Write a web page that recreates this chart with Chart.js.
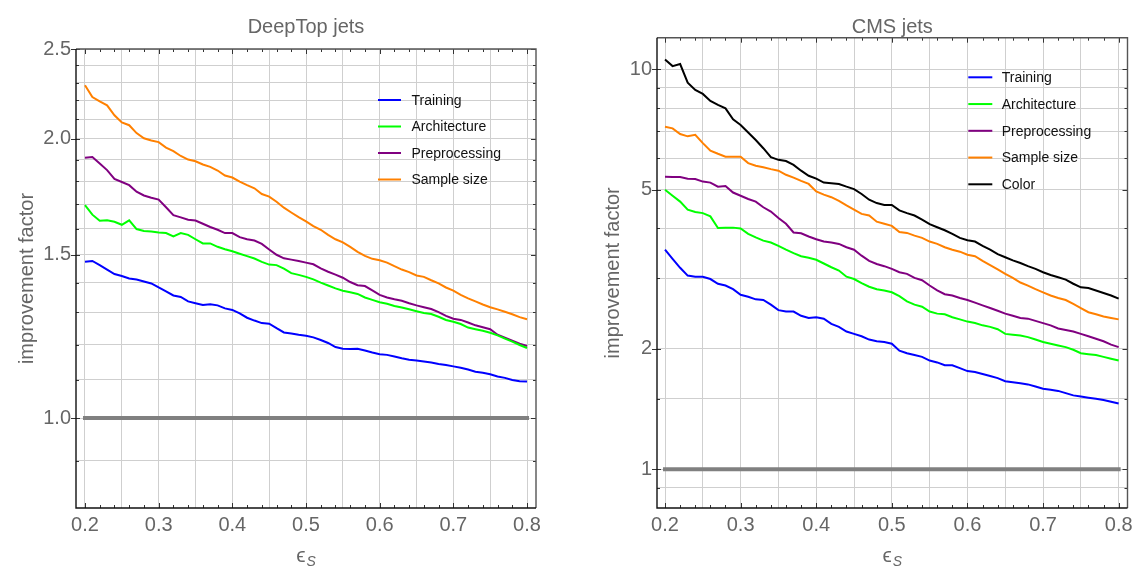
<!DOCTYPE html>
<html>
<head>
<meta charset="utf-8">
<title>Improvement factor</title>
<script src="https://cdn.jsdelivr.net/npm/chart.js@4.4.0/dist/chart.umd.min.js"></script>
<style>
  html, body { margin: 0; padding: 0; background: #fff; }
  body { width: 1145px; height: 573px; position: relative; overflow: hidden; }
  .box { position: absolute; top: 0; width: 573px; height: 573px; }
  #boxLeft { left: 0; }
  #boxRight { left: 572px; }
</style>
</head>
<body>
<div class="box" id="boxLeft"><canvas id="chartDeepTop"></canvas></div>
<div class="box" id="boxRight"><canvas id="chartCms"></canvas></div>
<script>
// signal efficiency (x values, shared by every curve)
const eps = [0.20,0.21,0.22,0.23,0.24,0.25,0.26,0.27,0.28,0.29,0.30,0.31,0.32,0.33,0.34,0.35,0.36,0.37,0.38,0.39,
  0.40,0.41,0.42,0.43,0.44,0.45,0.46,0.47,0.48,0.49,0.50,0.51,0.52,0.53,0.54,0.55,0.56,0.57,0.58,0.59,
  0.60,0.61,0.62,0.63,0.64,0.65,0.66,0.67,0.68,0.69,0.70,0.71,0.72,0.73,0.74,0.75,0.76,0.77,0.78,0.79,0.80];

// DeepTop jets
const dtTraining = [1.474,1.477,1.462,1.446,1.43,1.423,1.414,1.411,1.404,1.397,1.383,1.37,1.356,1.351,1.336,1.33,1.324,1.327,1.323,1.313,
  1.308,1.297,1.283,1.274,1.266,1.264,1.25,1.237,1.234,1.23,1.227,1.222,1.214,1.205,1.193,1.188,1.187,1.188,1.183,1.177,
  1.172,1.17,1.165,1.16,1.156,1.154,1.151,1.148,1.144,1.141,1.137,1.133,1.128,1.122,1.119,1.115,1.109,1.105,1.099,1.096,1.095];
const dtArchitecture = [1.697,1.657,1.632,1.634,1.628,1.616,1.634,1.599,1.591,1.589,1.585,1.583,1.57,1.583,1.576,1.559,1.543,1.543,1.53,1.521,
  1.513,1.504,1.495,1.486,1.474,1.464,1.462,1.449,1.433,1.427,1.42,1.411,1.4,1.39,1.38,1.372,1.367,1.361,1.349,1.341,
  1.333,1.328,1.321,1.316,1.31,1.304,1.298,1.295,1.286,1.276,1.27,1.263,1.252,1.247,1.242,1.236,1.228,1.218,1.209,1.199,1.19];
const dtPreprocessing = [1.909,1.912,1.882,1.851,1.811,1.797,1.783,1.754,1.738,1.728,1.72,1.688,1.655,1.646,1.636,1.633,1.62,1.607,1.596,1.583,
  1.583,1.567,1.559,1.554,1.541,1.52,1.5,1.487,1.482,1.477,1.471,1.465,1.45,1.438,1.428,1.417,1.402,1.391,1.388,1.373,
  1.358,1.349,1.343,1.338,1.33,1.323,1.317,1.311,1.301,1.289,1.28,1.276,1.268,1.259,1.253,1.247,1.23,1.221,1.212,1.203,1.196];
const dtSampleSize = [2.285,2.219,2.195,2.174,2.121,2.083,2.069,2.029,2.003,1.992,1.984,1.957,1.94,1.917,1.9,1.892,1.877,1.866,1.849,1.826,
  1.817,1.799,1.783,1.769,1.744,1.733,1.711,1.686,1.666,1.647,1.63,1.611,1.596,1.576,1.559,1.547,1.53,1.511,1.496,1.485,
  1.48,1.471,1.458,1.446,1.437,1.425,1.42,1.408,1.397,1.383,1.372,1.358,1.346,1.336,1.326,1.317,1.31,1.302,1.294,1.285,1.278];

// CMS jets
const cmsTraining = [3.54,3.36,3.19,3.05,3.03,3.03,2.99,2.91,2.88,2.82,2.73,2.7,2.66,2.65,2.58,2.5,2.48,2.48,2.42,2.39,
  2.4,2.38,2.31,2.27,2.21,2.18,2.15,2.11,2.09,2.08,2.06,1.98,1.95,1.93,1.91,1.87,1.85,1.82,1.82,1.79,
  1.76,1.75,1.73,1.71,1.69,1.66,1.65,1.64,1.63,1.61,1.59,1.58,1.57,1.55,1.53,1.52,1.51,1.5,1.49,1.475,1.46];
const cmsArchitecture = [5.0,4.83,4.67,4.46,4.4,4.37,4.29,4.01,4.02,4.02,4.0,3.88,3.8,3.73,3.69,3.62,3.54,3.47,3.41,3.38,
  3.34,3.27,3.2,3.14,3.03,2.99,2.92,2.86,2.82,2.8,2.77,2.71,2.63,2.58,2.55,2.48,2.45,2.44,2.4,2.37,
  2.34,2.32,2.29,2.27,2.24,2.18,2.17,2.16,2.14,2.11,2.08,2.06,2.04,2.02,1.99,1.95,1.94,1.93,1.91,1.89,1.87];
const cmsPreprocessing = [5.39,5.38,5.38,5.33,5.32,5.24,5.21,5.09,5.11,4.92,4.83,4.74,4.67,4.52,4.41,4.25,4.11,3.91,3.89,3.82,
  3.76,3.71,3.69,3.66,3.59,3.54,3.42,3.32,3.26,3.22,3.17,3.11,3.08,3.01,2.97,2.88,2.8,2.74,2.72,2.68,
  2.65,2.61,2.57,2.53,2.49,2.45,2.42,2.39,2.38,2.35,2.32,2.29,2.25,2.23,2.21,2.18,2.15,2.12,2.09,2.05,2.02];
const cmsSampleSize = [7.19,7.12,6.89,6.8,6.86,6.54,6.26,6.15,6.05,6.05,6.05,5.83,5.74,5.69,5.63,5.58,5.45,5.36,5.26,5.17,
  4.95,4.86,4.79,4.69,4.57,4.46,4.35,4.31,4.16,4.11,4.06,3.92,3.9,3.84,3.79,3.71,3.66,3.59,3.54,3.5,
  3.44,3.41,3.32,3.24,3.16,3.08,3.01,2.93,2.88,2.82,2.77,2.72,2.68,2.65,2.59,2.53,2.47,2.44,2.41,2.39,2.37];
const cmsColor = [10.59,10.19,10.31,9.26,8.88,8.68,8.34,8.15,7.99,7.5,7.26,6.95,6.66,6.35,6.03,5.94,5.9,5.77,5.58,5.42,
  5.33,5.21,5.19,5.17,5.09,5.02,4.88,4.72,4.63,4.58,4.58,4.44,4.37,4.31,4.21,4.1,4.03,3.96,3.88,3.79,
  3.74,3.71,3.62,3.54,3.45,3.39,3.33,3.28,3.22,3.17,3.11,3.06,3.02,2.98,2.91,2.85,2.84,2.8,2.76,2.72,2.67];

// reference line (improvement factor 1)
const refX = [0.2, 0.8];
const refY = [1, 1];

// ticks
const xGridTicks = [0.2,0.25,0.3,0.35,0.4,0.45,0.5,0.55,0.6,0.65,0.7,0.75,0.8];
const xLabelTicks = [0.2,0.3,0.4,0.5,0.6,0.7,0.8];
const dtGridTicks = [0.9,1.0,1.1,1.2,1.3,1.4,1.5,1.6,1.7,1.8,1.9,2.0,2.1,2.2,2.3,2.4,2.5];
const dtLabelTicks = [1.0,1.5,2.0,2.5];
const cmsGridTicks = [0.9,1,1.5,2,3,4,5,6,7,8,9,10];
const cmsLabelTicks = [1,2,5,10];

const FONT = '"Liberation Sans", Arial, Helvetica, sans-serif';
const GRAY_TEXT = '#666';
const GRID = '#cfcfcf';

const isIn = (list, v) => list.some(t => Math.abs(t - v) < 1e-6);

function line(label, values, color) {
  return {
    label: label,
    data: eps.map((x, i) => ({ x: x, y: values[i] })),
    borderColor: color,
    borderWidth: 2,
    pointRadius: 0,
    fill: false,
    tension: 0
  };
}

function refLine() {
  return {
    label: 'ref',
    data: refX.map((x, i) => ({ x: x, y: refY[i] })),
    borderColor: '#808080',
    borderWidth: 4,
    borderCapStyle: 'square',
    pointRadius: 0,
    fill: false,
    inLegend: false
  };
}

// frame, inward ticks, legend and x-axis title (Mathematica style)
const framePlugin = {
  id: 'frame',
  afterDraw(chart, args, opts) {
    const { ctx, chartArea: a } = chart;
    const x = chart.scales.x, y = chart.scales.y;
    ctx.save();

    // tick marks on the frame
    ctx.strokeStyle = '#333';
    ctx.lineWidth = 1;
    ctx.beginPath();
    for (let v = 0.2; v <= 0.8001; v += 0.02) {
      const px = Math.round(x.getPixelForValue(v)) + 0.5;
      const major = isIn(xLabelTicks, Math.round(v * 100) / 100);
      const len = major ? 5 : 3;
      ctx.moveTo(px, a.bottom); ctx.lineTo(px, a.bottom - len);
      ctx.moveTo(px, a.top); ctx.lineTo(px, a.top + len);
    }
    opts.yGrid.forEach(v => {
      const py = Math.round(y.getPixelForValue(v)) + 0.5;
      const major = isIn(opts.yLabels, v);
      if (major) { ctx.moveTo(a.left - 5, py); ctx.lineTo(a.left, py); }
      ctx.moveTo(a.left, py); ctx.lineTo(a.left + (major ? 4 : 3), py);
      ctx.moveTo(a.right, py); ctx.lineTo(a.right - (major ? 5 : 3), py);
    });
    ctx.stroke();

    // frame
    ctx.lineWidth = 1.4;
    ctx.strokeStyle = '#555';
    ctx.beginPath();
    ctx.moveTo(a.left, a.top); ctx.lineTo(a.right, a.top); ctx.lineTo(a.right, a.bottom);
    ctx.stroke();
    ctx.strokeStyle = '#111';
    ctx.beginPath();
    ctx.moveTo(a.left, a.top); ctx.lineTo(a.left, a.bottom); ctx.lineTo(a.right, a.bottom);
    ctx.stroke();

    // legend
    const lg = opts.legend;
    ctx.font = '14px ' + FONT;
    ctx.textBaseline = 'middle';
    ctx.textAlign = 'left';
    let row = 0;
    chart.data.datasets.forEach(ds => {
      if (ds.inLegend === false) return;
      const ly = lg.y + row * lg.dy;
      ctx.strokeStyle = ds.borderColor;
      ctx.lineWidth = 2;
      ctx.beginPath();
      ctx.moveTo(lg.x, ly); ctx.lineTo(lg.x + lg.len, ly);
      ctx.stroke();
      ctx.fillStyle = '#111';
      ctx.fillText(ds.label, lg.textX, ly + 1);
      row++;
    });

    // x-axis title: epsilon with subscript S
    const cx = (a.left + a.right) / 2;
    ctx.fillStyle = GRAY_TEXT;
    ctx.textBaseline = 'alphabetic';
    ctx.font = '21px ' + FONT;
    const w1 = ctx.measureText('\u03F5').width;
    ctx.font = 'italic 14px ' + FONT;
    const w2 = ctx.measureText('S').width;
    const sx = cx - (w1 + w2 + 1) / 2;
    ctx.font = '21px ' + FONT;
    ctx.fillText('\u03F5', sx, 562);
    ctx.font = 'italic 14px ' + FONT;
    ctx.fillText('S', sx + w1 + 1, 566);

    ctx.restore();
  }
};

function makeChart(id, cfg) {
  return new Chart(document.getElementById(id), {
    type: 'line',
    data: { datasets: cfg.datasets },
    plugins: [framePlugin],
    options: {
      responsive: true,
      maintainAspectRatio: false,
      animation: false,
      devicePixelRatio: 1,
      layout: { padding: { left: 0, right: cfg.padRight, top: 0, bottom: 0 } },
      scales: {
        x: {
          type: 'linear',
          min: cfg.xMin,
          max: cfg.xMax,
          afterBuildTicks: s => { s.ticks = xGridTicks.map(v => ({ value: v })); },
          afterFit: s => { s.height = 65; s.paddingLeft = 0; s.paddingRight = 0; },
          grid: { color: GRID, lineWidth: 1, drawTicks: false },
          border: { display: false },
          ticks: {
            autoSkip: false,
            maxRotation: 0,
            padding: 5,
            color: GRAY_TEXT,
            font: { family: FONT, size: 20 },
            callback: v => isIn(xLabelTicks, v) ? v.toFixed(1) : ''
          }
        },
        y: {
          type: 'logarithmic',
          min: cfg.yMin,
          max: cfg.yMax,
          afterBuildTicks: s => { s.ticks = cfg.yGrid.map(v => ({ value: v })); },
          afterFit: s => { s.width = cfg.yWidth; s.paddingTop = 0; s.paddingBottom = 0; },
          grid: { color: GRID, lineWidth: 1, drawTicks: false },
          border: { display: false },
          title: {
            display: true,
            text: 'improvement factor',
            color: GRAY_TEXT,
            font: { family: FONT, size: 20 },
            padding: { top: cfg.yTitlePad, bottom: 0 }
          },
          ticks: {
            autoSkip: false,
            padding: 5,
            color: GRAY_TEXT,
            font: { family: FONT, size: 20 },
            callback: v => isIn(cfg.yLabels, v) ? cfg.fmt(v) : ''
          }
        }
      },
      plugins: {
        legend: { display: false },
        tooltip: { enabled: false },
        title: {
          display: true,
          fullSize: false,
          text: cfg.title,
          color: GRAY_TEXT,
          font: { family: FONT, size: 20, weight: 'normal', lineHeight: 1 },
          padding: { top: 17, bottom: cfg.titlePadBottom }
        },
        frame: { yGrid: cfg.yGrid, yLabels: cfg.yLabels, legend: cfg.legend }
      }
    }
  });
}

makeChart('chartDeepTop', {
  title: 'DeepTop jets',
  datasets: [
    line('Training', dtTraining, '#0000ff'),
    line('Architecture', dtArchitecture, '#00ff00'),
    line('Preprocessing', dtPreprocessing, '#800080'),
    line('Sample size', dtSampleSize, '#ff8000'),
    refLine()
  ],
  xMin: 0.1878, xMax: 0.8122,
  yMin: 0.8, yMax: 2.5,
  yGrid: dtGridTicks, yLabels: dtLabelTicks,
  fmt: v => v.toFixed(1),
  yWidth: 76, padRight: 37, yTitlePad: 15, titlePadBottom: 12,
  legend: { x: 378, y: 100, dy: 26.5, len: 23, textX: 411.5 }
});

makeChart('chartCms', {
  title: 'CMS jets',
  datasets: [
    line('Training', cmsTraining, '#0000ff'),
    line('Architecture', cmsArchitecture, '#00ff00'),
    line('Preprocessing', cmsPreprocessing, '#800080'),
    line('Sample size', cmsSampleSize, '#ff8000'),
    line('Color', cmsColor, '#000000'),
    refLine()
  ],
  xMin: 0.1894, xMax: 0.8117,
  yMin: 0.8, yMax: 12,
  yGrid: cmsGridTicks, yLabels: cmsLabelTicks,
  fmt: v => String(v),
  yWidth: 85, padRight: 17.5, yTitlePad: 29, titlePadBottom: 0.7,
  legend: { x: 396.3, y: 77.3, dy: 26.75, len: 24, textX: 429.7 }
});
</script>
</body>
</html>
